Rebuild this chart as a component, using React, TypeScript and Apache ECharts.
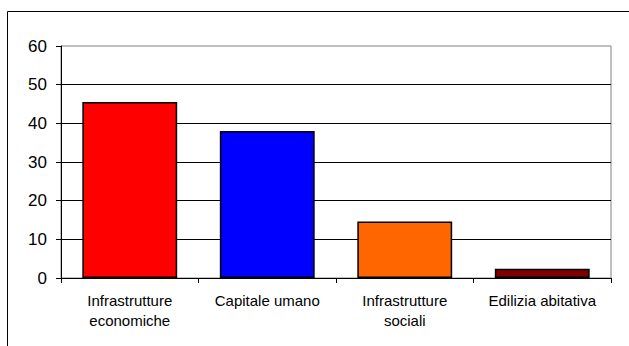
import React, { useEffect, useRef } from "react";
import * as echarts from "echarts";

const categories = ["Infrastrutture\neconomiche", "Capitale umano", "Infrastrutture\nsociali", "Edilizia abitativa"];
const values = [45.5, 38, 14.6, 2.4];
const barColors = ["#FF0000", "#0000FF", "#FF6600", "#800000"];
const yTicks = { min: 0, max: 60, interval: 10 };

export default function App() {
  const ref = useRef<HTMLDivElement>(null);
  useEffect(() => {
    if (!ref.current) return;
    const chart = echarts.init(ref.current, undefined, { renderer: "svg" });
    chart.setOption({
      animation: false,
      backgroundColor: "#fff",
      textStyle: { fontFamily: "Liberation Sans, Arial, sans-serif" },
      graphic: [
        {
          type: "rect",
          shape: { x: 7.5, y: 11.5, width: 700, height: 400 },
          style: { fill: "none", stroke: "#000", lineWidth: 1 },
          silent: true,
        },
      ],
      grid: {
        left: 61,
        top: 46,
        right: 18,
        bottom: 68,
        show: true,
        borderColor: "#808080",
        borderWidth: 1,
        backgroundColor: "transparent",
      },
      xAxis: {
        type: "category",
        data: categories,
        axisLine: { lineStyle: { color: "#000", width: 1 } },
        axisTick: { show: true, length: 5, lineStyle: { color: "#000" } },
        axisLabel: {
          color: "#000",
          fontSize: 15,
          lineHeight: 20,
          margin: 12,
          interval: 0,
          fontFamily: "Liberation Sans, Arial, sans-serif",
        },
      },
      yAxis: {
        type: "value",
        min: yTicks.min,
        max: yTicks.max,
        interval: yTicks.interval,
        axisLine: { show: true, lineStyle: { color: "#000", width: 1 } },
        axisTick: { show: true, length: 5, lineStyle: { color: "#000" } },
        axisLabel: {
          color: "#000",
          fontSize: 17,
          margin: 14,
          fontFamily: "Liberation Sans, Arial, sans-serif",
        },
        splitLine: {
          show: true,
          showMinLine: false,
          showMaxLine: false,
          lineStyle: { color: "#000", width: 1 },
        },
      },
      series: [
        {
          type: "bar",
          barCategoryGap: "31%",
          data: values.map((v, i) => ({
            value: v,
            itemStyle: { color: barColors[i], borderColor: "#000", borderWidth: 1.5 },
          })),
        },
      ],
    });
    return () => chart.dispose();
  }, []);
  return (
    <div
      ref={ref}
      style={{ position: "fixed", left: 0, top: 0, width: 629, height: 346 }}
    />
  );
}
